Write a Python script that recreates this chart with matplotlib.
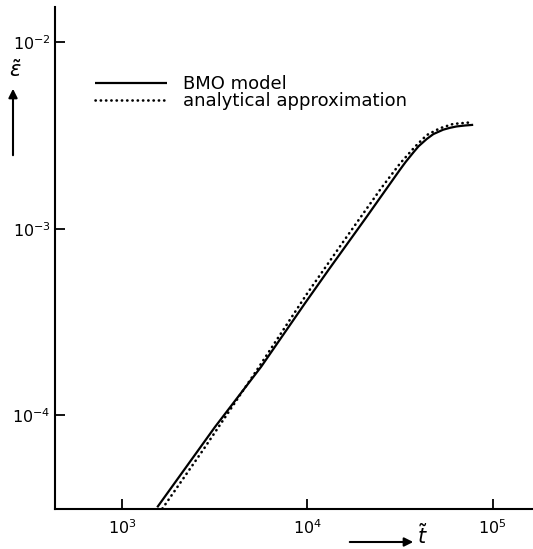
import numpy as np
import matplotlib
matplotlib.use("Agg")
import matplotlib.pyplot as plt

plt.rcParams['font.family'] = ['DejaVu Sans']
plt.rcParams['mathtext.fontset'] = 'dejavusans'

# BMO model curve
t_bmo = [1545, 3162, 5623, 9705, 12970, 20890, 31550, 33880, 37240, 39810,
         44060, 47860, 54080, 58880, 63970, 70790, 78520]
eps_bmo = [3.21e-5, 8.63e-5, 1.82e-4, 3.99e-4, 6.00e-4, 1.16e-3, 2.07e-3, 2.28e-3,
           2.56e-3, 2.77e-3, 3.03e-3, 3.22e-3, 3.40e-3, 3.48e-3, 3.54e-3, 3.58e-3, 3.61e-3]

# analytical approximation (dotted)
t_ana = [1648, 2735, 5420, 10000, 15850, 25120, 31620, 38020, 44060,
         51880, 61240, 73790]
eps_ana = [3.16e-5, 6.52e-5, 1.79e-4, 4.52e-4, 8.71e-4, 1.66e-3, 2.24e-3, 2.75e-3,
           3.18e-3, 3.46e-3, 3.65e-3, 3.71e-3]

xticks = [1e3, 1e4, 1e5]
xlabels = [r'$10^3$', r'$10^4$', r'$10^5$']
yticks = [1e-4, 1e-3, 1e-2]
ylabels = [r'$10^{-4}$', r'$10^{-3}$', r'$10^{-2}$']

W, H = 533, 549
fig = plt.figure(figsize=(W / 100, H / 100), dpi=100)
ax = fig.add_axes([55 / W, 1 - 508.5 / H, 1 - 55 / W, (508.5 - 6.7) / H])

ax.plot(t_bmo, eps_bmo, color='k', lw=1.6, label='BMO model', solid_capstyle='butt')
ax.plot(t_ana, eps_ana, color='k', lw=1.9, linestyle=(0, (0.1, 1.9)),
        dash_capstyle='round', label='analytical approximation')

ax.set_xscale('log')
ax.set_yscale('log')
ax.set_xlim(10 ** 2.637, 10 ** 5.218)
ax.set_ylim(10 ** -4.50, 10 ** -1.809)

ax.set_xticks(xticks)
ax.set_xticklabels(xlabels)
ax.set_yticks(yticks)
ax.set_yticklabels(ylabels)
ax.minorticks_off()
ax.tick_params(direction='in', length=7, width=1.3, labelsize=11.5)
ax.tick_params(axis='x', pad=7)
ax.tick_params(axis='y', pad=3)

for s in ['top', 'right']:
    ax.spines[s].set_visible(False)
for s in ['left', 'bottom']:
    ax.spines[s].set_linewidth(1.5)

ax.legend(loc='upper left', bbox_to_anchor=(95 / W, 1 - 75 / H),
          bbox_transform=fig.transFigure, frameon=False, fontsize=13,
          handlelength=4.0, handletextpad=0.85, labelspacing=-0.05,
          borderaxespad=0, borderpad=0)

# axis labels with arrows
fig.text(15 / W, 1 - 70 / H, r'$\tilde{\varepsilon}$', fontsize=15,
         ha='center', va='center')
ax.annotate('', xy=(13 / W, 1 - 86 / H), xytext=(13 / W, 1 - 158 / H),
            xycoords='figure fraction', textcoords='figure fraction',
            arrowprops=dict(arrowstyle='-|>', lw=1.5, color='k', mutation_scale=13))
fig.text(422 / W, 1 - 536 / H, r'$\tilde{t}$', fontsize=15,
         ha='center', va='center')
ax.annotate('', xy=(416 / W, 1 - 542 / H), xytext=(347 / W, 1 - 542 / H),
            xycoords='figure fraction', textcoords='figure fraction',
            arrowprops=dict(arrowstyle='-|>', lw=1.5, color='k', mutation_scale=13))

fig.savefig('out.png', dpi=100)
